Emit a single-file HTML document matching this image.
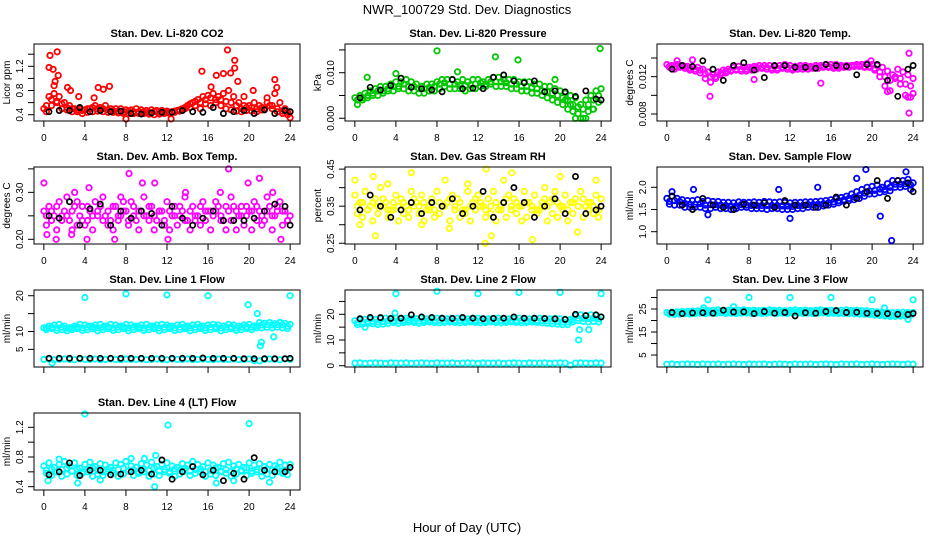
<!DOCTYPE html>
<html><head><meta charset="utf-8">
<style>
html,body{margin:0;padding:0;background:#fff;}
svg{display:block;font-family:"Liberation Sans",sans-serif;}
</style></head>
<body>
<svg id="chart" width="936" height="540" viewBox="0 0 936 540" xmlns="http://www.w3.org/2000/svg">
<rect x="0" y="0" width="936" height="540" fill="#fff"/>
<text x="467" y="14" font-size="13" text-anchor="middle">NWR_100729  Std. Dev. Diagnostics</text>
<text x="467" y="532" font-size="13" text-anchor="middle">Hour of Day (UTC)</text>
</svg>
<script>
const hoursA=[0,0.5,1,1.5,2,2.5,3,3.5,4,4.5,5,5.5,6,6.5,7,7.5,8,8.5,9,9.5,10,10.5,11,11.5,12,12.5,13,13.5,14,14.5,15,15.5,16,16.5,17,17.5,18,18.5,19,19.5,20,20.5,21,21.5,22,22.5,23,23.5,24];
const hoursB=[0.25,0.75,1.25,1.75,2.25,2.75,3.25,3.75,4.25,4.75,5.25,5.75,6.25,6.75,7.25,7.75,8.25,8.75,9.25,9.75,10.25,10.75,11.25,11.75,12.25,12.75,13.25,13.75,14.25,14.75,15.25,15.75,16.25,16.75,17.25,17.75,18.25,18.75,19.25,19.75,20.25,20.75,21.25,21.75,22.25,22.75,23.25,23.75];
const hoursK=[0.5,1.5,2.5,3.5,4.5,5.5,6.5,7.5,8.5,9.5,10.5,11.5,12.5,13.5,14.5,15.5,16.5,17.5,18.5,19.5,20.5,21.5,22.5,23.5,24];
const xTicks=[0,4,8,12,16,20,24];

// Panel 1 CO2
const co2A=[0.5,0.7,0.75,0.7,0.6,0.55,0.5,0.5,0.48,0.5,0.55,0.52,0.55,0.5,0.5,0.5,0.48,0.48,0.5,0.48,0.47,0.48,0.47,0.47,0.46,0.45,0.47,0.5,0.55,0.6,0.65,0.7,0.72,0.75,0.7,0.75,0.8,0.7,0.6,0.55,0.55,0.6,0.55,0.5,0.55,0.75,0.6,0.5,0.45];
const co2B=[0.45,0.55,0.6,0.5,0.48,0.45,0.45,0.42,0.44,0.45,0.46,0.45,0.44,0.44,0.43,0.42,0.42,0.42,0.42,0.42,0.41,0.4,0.41,0.42,0.42,0.44,0.46,0.5,0.52,0.55,0.5,0.58,0.55,0.6,0.55,0.5,0.48,0.46,0.45,0.47,0.46,0.45,0.48,0.6,0.5,0.45,0.42,0.4];
const co2M=[0.55,0.65,0.62,0.58,0.52,0.5,0.48,0.47,0.5,0.52,0.5,0.5,0.48,0.47,0.46,0.45,0.46,0.45,0.45,0.45,0.44,0.45,0.44,0.45,0.44,0.46,0.48,0.52,0.58,0.62,0.6,0.65,0.68,0.65,0.65,0.62,0.6,0.55,0.5,0.52,0.52,0.5,0.52,0.68,0.55,0.5,0.46,0.44];
const co2OutX=[0.6,1.3,0.5,0.9,1.4,1.1,2.3,2.6,3.4,5.3,5.8,6.4,15.4,16.8,17.5,17.9,18.6,18.6,18.9,18.2,20.4,22.5,22.7,8,12.4,24,1.0,4.9,16.3,19.5];
const co2OutY=[1.38,1.44,1.18,1.15,1.05,0.95,0.85,0.8,0.7,0.85,0.82,0.87,1.12,1.05,1.08,1.47,1.3,1.17,0.95,1.09,0.8,0.98,0.85,0.33,0.33,0.35,0.88,0.68,0.86,0.7];
const co2K=[0.45,0.47,0.47,0.52,0.45,0.47,0.45,0.46,0.42,0.41,0.43,0.44,0.44,0.47,0.45,0.44,0.52,0.42,0.45,0.47,0.42,0.48,0.42,0.47,0.45];

// Panel 2 Pressure
const presA=[0.0045,0.005,0.0055,0.006,0.0065,0.007,0.007,0.0075,0.008,0.008,0.0085,0.008,0.0075,0.007,0.0075,0.0075,0.008,0.0085,0.0085,0.0085,0.008,0.0085,0.008,0.0085,0.0085,0.008,0.0085,0.009,0.009,0.0085,0.0085,0.0085,0.008,0.008,0.008,0.0075,0.0075,0.007,0.007,0.0065,0.006,0.0055,0.005,0.0045,0.003,0.004,0.005,0.006,0.0065];
const presB=[0.003,0.004,0.0045,0.005,0.005,0.0055,0.006,0.006,0.0065,0.0065,0.006,0.006,0.0055,0.0055,0.006,0.006,0.0065,0.007,0.0065,0.0065,0.0065,0.006,0.0065,0.0065,0.007,0.007,0.0075,0.007,0.007,0.007,0.0065,0.0065,0.006,0.006,0.0055,0.0055,0.005,0.0045,0.004,0.0035,0.003,0.002,0.0015,0.001,0.0,0.0015,0.002,0.0035];
const presM=[0.004,0.0045,0.005,0.0055,0.006,0.006,0.0065,0.007,0.007,0.0075,0.007,0.007,0.0065,0.0065,0.0068,0.007,0.0075,0.0078,0.0075,0.0075,0.0072,0.0072,0.0073,0.0075,0.0078,0.0075,0.008,0.008,0.008,0.0078,0.0075,0.0075,0.007,0.007,0.0068,0.0065,0.006,0.0058,0.0055,0.005,0.0045,0.0038,0.003,0.0025,0.002,0.003,0.004,0.005];
const presOutX=[8,13.7,15.9,23.9,21.5,22,22.5,23.2,20.5,21,4,10,1.2,19.5];
const presOutY=[0.0148,0.0135,0.0128,0.0153,0,0,0,0.002,0.004,0.003,0.0098,0.0102,0.009,0.0085];
const presK=[0.0045,0.0068,0.0062,0.0072,0.0088,0.0068,0.0065,0.0062,0.0058,0.0085,0.0065,0.0066,0.0065,0.009,0.0095,0.0082,0.0078,0.0082,0.0058,0.006,0.0058,0.0048,0.006,0.0042,0.004];

// Panel 3 Li-820 Temp
const tempA=[0.0133,0.0132,0.0133,0.0132,0.0131,0.013,0.013,0.0128,0.0125,0.0122,0.0125,0.0127,0.0128,0.013,0.0131,0.013,0.013,0.0131,0.0132,0.0132,0.0132,0.0131,0.0132,0.0133,0.0132,0.0131,0.0132,0.0132,0.0131,0.0132,0.0132,0.0133,0.0133,0.0133,0.0132,0.0132,0.0132,0.0133,0.0133,0.0134,0.0133,0.0132,0.013,0.0126,0.0122,0.0128,0.0125,0.0122,0.0118];
const tempB=[0.013,0.0128,0.013,0.0129,0.0127,0.0126,0.0124,0.0118,0.0114,0.0118,0.0122,0.0124,0.0126,0.0127,0.0126,0.0126,0.0127,0.0128,0.0129,0.0128,0.0127,0.0127,0.0129,0.0128,0.0127,0.0128,0.0128,0.0128,0.0129,0.0129,0.013,0.013,0.0129,0.0129,0.013,0.013,0.0131,0.0131,0.013,0.013,0.0127,0.012,0.011,0.0105,0.0118,0.0112,0.01,0.0098];
const tempM=[0.0131,0.013,0.0131,0.0131,0.0129,0.0128,0.0127,0.0123,0.012,0.012,0.0124,0.0126,0.0127,0.0128,0.0128,0.0128,0.0129,0.013,0.013,0.013,0.0129,0.0129,0.013,0.013,0.0129,0.013,0.013,0.013,0.013,0.0131,0.0131,0.0131,0.0131,0.0131,0.0131,0.0131,0.0132,0.0132,0.0131,0.0131,0.0129,0.0125,0.012,0.0116,0.012,0.0118,0.0112,0.011];
const tempOutX=[2.5,4.2,8.5,15,21.5,23.6,23.6,24,23.5,1.0,19.9];
const tempOutY=[0.0138,0.0099,0.0117,0.0113,0.0104,0.0145,0.0081,0.0102,0.0098,0.0137,0.0137];
const tempK=[0.0128,0.0132,0.0131,0.0137,0.0128,0.0116,0.0132,0.0135,0.0127,0.0119,0.0132,0.0132,0.013,0.013,0.0129,0.0133,0.0132,0.0131,0.0122,0.0133,0.0133,0.0116,0.0099,0.0128,0.0132];

// Panel 4 Amb Box Temp
const ambA=[0.26,0.27,0.25,0.28,0.26,0.24,0.27,0.25,0.23,0.26,0.28,0.27,0.25,0.24,0.27,0.25,0.26,0.28,0.24,0.26,0.25,0.27,0.24,0.26,0.28,0.25,0.23,0.26,0.24,0.27,0.25,0.28,0.26,0.25,0.27,0.24,0.26,0.27,0.25,0.23,0.26,0.28,0.26,0.24,0.27,0.25,0.28,0.26,0.25];
const ambB=[0.23,0.24,0.22,0.25,0.29,0.22,0.23,0.27,0.24,0.22,0.25,0.29,0.23,0.22,0.24,0.28,0.23,0.25,0.22,0.29,0.24,0.22,0.26,0.23,0.22,0.27,0.25,0.29,0.22,0.24,0.23,0.26,0.22,0.28,0.24,0.22,0.29,0.22,0.25,0.27,0.22,0.24,0.23,0.29,0.22,0.26,0.23,0.24];
const ambM=[0.25,0.26,0.27,0.24,0.25,0.26,0.28,0.24,0.27,0.25,0.26,0.24,0.26,0.27,0.25,0.26,0.24,0.27,0.26,0.25,0.27,0.25,0.26,0.24,0.26,0.25,0.27,0.24,0.26,0.25,0.27,0.24,0.26,0.26,0.25,0.27,0.24,0.26,0.27,0.25,0.26,0.27,0.25,0.26,0.25,0.27,0.26,0.24];
const ambOutX=[0,8.3,18,10.8,4.4,1.2,4.2,6.9,12.1,23.1,19.9,21,0.3,2.7,9.6,3.0,7.5,13.8,17.2,22.3];
const ambOutY=[0.32,0.34,0.35,0.32,0.31,0.2,0.2,0.2,0.2,0.2,0.32,0.33,0.21,0.21,0.32,0.3,0.29,0.3,0.3,0.3];
const ambK=[0.25,0.245,0.28,0.23,0.265,0.275,0.23,0.26,0.245,0.26,0.255,0.23,0.27,0.245,0.23,0.245,0.26,0.24,0.24,0.24,0.245,0.26,0.275,0.27,0.23];

// Panel 5 Gas Stream RH
const rhA=[0.38,0.36,0.39,0.35,0.37,0.4,0.36,0.34,0.38,0.37,0.35,0.39,0.36,0.38,0.34,0.37,0.39,0.35,0.36,0.38,0.37,0.34,0.39,0.36,0.38,0.35,0.37,0.39,0.34,0.36,0.38,0.37,0.35,0.39,0.36,0.38,0.34,0.37,0.36,0.39,0.35,0.38,0.36,0.37,0.39,0.35,0.36,0.38,0.37];
const rhB=[0.33,0.32,0.34,0.31,0.33,0.35,0.32,0.34,0.31,0.33,0.32,0.35,0.33,0.31,0.34,0.32,0.33,0.35,0.31,0.34,0.32,0.33,0.31,0.34,0.35,0.32,0.33,0.31,0.34,0.32,0.35,0.33,0.31,0.32,0.34,0.33,0.35,0.31,0.33,0.32,0.34,0.31,0.33,0.35,0.32,0.34,0.33,0.32];
const rhM=[0.35,0.36,0.34,0.36,0.35,0.37,0.34,0.36,0.35,0.36,0.34,0.37,0.35,0.36,0.35,0.34,0.36,0.35,0.37,0.35,0.36,0.34,0.35,0.37,0.36,0.34,0.35,0.36,0.35,0.37,0.34,0.36,0.35,0.36,0.35,0.34,0.36,0.35,0.37,0.36,0.35,0.34,0.36,0.35,0.37,0.36,0.35,0.34];
const rhOutX=[0,1.8,5.5,12.8,15.3,20,23.5,2,12.7,17.3,13.3,9.2,21.7,0.5,6.5,3.2,8.8,11,14.5,18.5];
const rhOutY=[0.42,0.43,0.44,0.45,0.44,0.43,0.42,0.27,0.25,0.26,0.27,0.29,0.28,0.3,0.3,0.41,0.42,0.41,0.42,0.4];
const rhK=[0.34,0.38,0.35,0.32,0.34,0.36,0.33,0.36,0.35,0.37,0.33,0.35,0.39,0.32,0.36,0.4,0.36,0.32,0.35,0.37,0.33,0.43,0.33,0.34,0.35];

// Panel 6 Sample Flow
const sfA=[1.75,1.8,1.75,1.72,1.7,1.7,1.72,1.68,1.7,1.68,1.68,1.66,1.66,1.65,1.67,1.66,1.66,1.67,1.66,1.68,1.67,1.66,1.67,1.66,1.65,1.66,1.66,1.67,1.67,1.68,1.69,1.7,1.72,1.75,1.77,1.8,1.85,1.9,1.95,2,2.02,2.05,2,2.08,2.15,2.15,2.15,2.18,2.1];
const sfB=[1.62,1.6,1.6,1.55,1.55,1.55,1.55,1.52,1.52,1.55,1.52,1.52,1.5,1.52,1.55,1.55,1.52,1.52,1.52,1.5,1.52,1.52,1.5,1.5,1.5,1.52,1.52,1.55,1.55,1.55,1.58,1.6,1.62,1.65,1.68,1.7,1.72,1.75,1.8,1.85,1.85,1.88,1.9,1.92,2,2,2.02,1.95];
const sfM=[1.68,1.7,1.68,1.64,1.62,1.62,1.63,1.6,1.61,1.61,1.6,1.59,1.58,1.58,1.61,1.6,1.59,1.59,1.59,1.59,1.59,1.59,1.58,1.58,1.57,1.59,1.59,1.61,1.61,1.62,1.63,1.65,1.67,1.7,1.72,1.75,1.78,1.82,1.87,1.92,1.93,1.96,1.95,2,2.07,2.07,2.08,2.05];
const sfOutX=[19.4,23.3,18.5,12,20.8,21.9,14.7,2.6,10.9,4,0.5];
const sfOutY=[2.4,2.35,2.2,1.3,1.35,0.8,2.0,1.95,1.95,1.38,1.9];
const sfK=[1.8,1.6,1.5,1.75,1.6,1.55,1.5,1.62,1.6,1.65,1.55,1.7,1.6,1.6,1.55,1.6,1.78,1.6,1.75,1.9,2.15,1.75,2.15,2.1,1.9];

// Panel 7 Line 1 Flow
const l1A=[11,11.5,11.8,12,11.5,11,11.5,12,11.8,11.5,11.8,12,11.5,12,11.8,11.5,12,11.8,11.5,11.8,12,11.5,11.8,12,11.8,11.5,11.8,12,11.5,11.8,12,11.5,11.8,12,11.8,11.5,12,11.8,11.5,11.8,12,11.5,12.5,12.3,12.5,12.2,12.5,12.3,12];
const l1B=[10.5,10.8,10.3,10.5,10.2,10.5,10.8,10.3,10.5,10.8,10.2,10.5,10.8,10.3,10.5,10.8,10.2,10.5,10.8,10.3,10.5,10.8,10.2,10.5,10.8,10.3,10.5,10.8,10.2,10.5,10.8,10.3,10.5,10.8,10.2,10.5,10.8,10.3,10.5,10.8,10.5,11,11,11.2,11,11.2,11,10.8];
const l1M=[11,11.2,11,11.2,10.9,11,11.3,11,11.2,11.3,11,11.2,11.3,11,11.2,11.3,11,11.2,11.3,11,11.2,11.3,11,11.2,11.3,11,11.2,11.3,11,11.2,11.3,11,11.2,11.3,11,11.2,11.3,11,11.2,11.3,11.2,11.6,11.8,11.9,11.8,11.9,11.8,11.5];
const l1Low=[2.2,2.3,2.1,2.2,2.3,2.2,2.1,2.3,2.2,2.2,2.3,2.1,2.2,2.3,2.2,2.1,2.3,2.2,2.2,2.3,2.1,2.2,2.3,2.2,2.1,2.3,2.2,2.2,2.3,2.1,2.2,2.3,2.2,2.1,2.3,2.2,2.2,2.3,2.1,2.2,2.3,1.9,1.8,2.2,2.3,2.2,2.1,2.3,2.2];
const l1OutX=[4,8,12,16,19.9,20.8,21.2,21.1,22.4,24,0.8];
const l1OutY=[19.5,20.5,20.2,20,17.5,15,7,6,8.5,20,1.2];
const l1K=[2.5,2.5,2.5,2.5,2.5,2.5,2.5,2.5,2.5,2.5,2.5,2.5,2.5,2.5,2.5,2.6,2.5,2.5,2.5,2.4,2.4,2.4,2.4,2.4,2.5];

// Panel 8 Line 2 Flow
const l2A=[17.5,17.8,18,18.2,18,18.3,18.5,18.2,18.5,18.3,18.5,18.2,18.3,18.5,18.2,18.4,18.5,18.3,18.2,18.4,18.5,18.3,18.2,18.4,18.5,18.3,18.2,18.4,18.5,18.3,18.2,18.4,18.5,18.3,18.2,18.4,18.5,18.3,18.2,18.4,18.2,18,18,19.5,19.8,19.5,19.8,19.5,19];
const l2B=[16,16.2,16.5,16.3,16,16.2,16.5,16.8,16.5,16.8,17,16.8,16.5,16.8,17,16.8,16.7,16.8,17,16.8,16.7,16.8,17,16.8,16.7,16.8,17,16.8,16.7,16.8,17,16.8,16.7,16.8,17,16.8,16.7,16.5,16.3,16.2,16,16,17,17.5,17.2,17,17.2,17];
const l2M=[16.8,17,17.2,17.2,17,17.2,17.5,17.5,17.5,17.6,17.7,17.5,17.4,17.6,17.6,17.6,17.6,17.5,17.6,17.6,17.6,17.5,17.6,17.6,17.6,17.5,17.6,17.6,17.6,17.5,17.6,17.6,17.6,17.5,17.6,17.6,17.6,17.4,17.3,17.2,17,17,17.8,18.5,18.5,18.3,18.5,18.2];
const l2Low=[1,1.1,0.9,1,1.1,1,0.9,1.1,1,1,1.1,0.9,1,1.1,1,0.9,1.1,1,1,1.1,0.9,1,1.1,1,0.9,1.1,1,1,1.1,0.9,1,1.1,1,0.9,1.1,1,1,1.1,0.9,1,1.1,1,0.2,1,1.1,1,0.9,1.1,1];
const l2OutX=[4,8,12,16,20,24,21.8,21.9,22.8,1,3.9];
const l2OutY=[28,29,28,28.5,28.5,28,10,14,14,15,20.5];
const l2K=[18.3,18.8,18.7,18.4,18.5,19.8,19,18.8,18.5,18.4,18.8,18.5,18.3,18.4,18.5,19,18.5,18.5,18.4,18.2,18,20,19.5,19.8,19];

// Panel 9 Line 3 Flow
const l3A=[23.5,23.6,23.8,23.9,24,24.1,24.2,24.5,24.3,24.5,24.6,24.4,24.5,24.3,24.5,24.6,24.4,24.5,24.3,24.5,24.6,24.4,24.5,24.3,24.5,24.6,24.4,24.5,24.3,24.5,24.6,24.4,24.5,24.3,24.5,24.6,24.4,24.5,24.3,24.2,24,23.8,23.6,23.5,23.4,23.5,23.6,23.5,23.5];
const l3B=[22.8,22.6,22.8,23,22.8,23,23.2,23,23.2,23.1,23.3,23.1,23.2,23,23.2,23.3,23.1,23.2,23,23.2,23.3,23.1,23.2,23,23.2,23.3,23.1,23.2,23,23.2,23.3,23.1,23.2,23,23.1,23,22.9,22.8,22.7,22.6,22.3,22.2,22,21.8,21.8,21.9,22,22.4];
const l3M=[23.2,23.1,23.3,23.5,23.4,23.6,23.7,23.8,23.8,23.8,24,23.8,23.9,23.7,23.9,24,23.8,23.9,23.7,23.9,24,23.8,23.9,23.7,23.9,24,23.8,23.9,23.7,23.9,24,23.8,23.9,23.7,23.8,23.8,23.7,23.7,23.5,23.4,23.2,23,22.8,22.6,22.6,22.7,22.8,23];
const l3Low=[1,1.1,0.9,1,1.1,1,0.9,1.1,1,1,1.1,0.9,1,1.1,1,0.9,1.1,1,1,1.1,0.9,1,1.1,1,0.9,1.1,1,1,1.1,0.9,1,1.1,1,0.9,1.1,1,1,1.1,0.9,1,1.1,1,0.9,1,1.1,1,0.9,1.1,1];
const l3OutX=[4,8,12,16,20,24,3.6,6.5,21.2,23.5];
const l3OutY=[29,30,30,30,29,29,25.5,26,25.5,20.5];
const l3K=[23.5,23,23.3,23.4,23.2,24.5,23.7,23.8,23,23.9,23.2,23.5,22,23.4,23.2,23.9,24.3,23.5,23.6,23.2,23.1,23,22.7,22.6,23.1];

// Panel 10 Line 4 (LT) Flow
const l4A=[0.68,0.72,0.66,0.7,0.74,0.68,0.72,0.65,0.7,0.73,0.67,0.71,0.69,0.66,0.72,0.7,0.74,0.68,0.66,0.71,0.69,0.73,0.67,0.7,0.72,0.68,0.66,0.71,0.69,0.74,0.7,0.67,0.72,0.69,0.66,0.71,0.73,0.68,0.7,0.66,0.72,0.69,0.71,0.67,0.7,0.68,0.73,0.69,0.7];
const l4B=[0.58,0.55,0.6,0.54,0.57,0.61,0.55,0.58,0.6,0.54,0.57,0.55,0.6,0.58,0.54,0.57,0.61,0.55,0.58,0.6,0.54,0.57,0.55,0.6,0.58,0.54,0.57,0.61,0.55,0.58,0.6,0.54,0.57,0.55,0.6,0.58,0.54,0.57,0.61,0.55,0.58,0.6,0.54,0.57,0.55,0.6,0.58,0.56];
const l4M=[0.62,0.64,0.6,0.63,0.65,0.61,0.64,0.6,0.63,0.65,0.62,0.6,0.64,0.62,0.63,0.65,0.61,0.63,0.6,0.64,0.62,0.65,0.61,0.63,0.6,0.64,0.62,0.65,0.61,0.63,0.64,0.6,0.62,0.65,0.61,0.63,0.6,0.64,0.62,0.65,0.61,0.63,0.6,0.64,0.62,0.65,0.61,0.63];
const l4OutX=[4,12.1,20,10.9,10.8,3.3,16.8,0.4,8.5,1.5,9.8,22,5.5,18.5];
const l4OutY=[1.38,1.23,1.25,0.82,0.4,0.45,0.45,0.48,0.78,0.77,0.78,0.46,0.49,0.48];
const l4K=[0.56,0.6,0.72,0.55,0.62,0.62,0.56,0.57,0.6,0.62,0.57,0.76,0.5,0.6,0.67,0.56,0.62,0.48,0.58,0.5,0.79,0.62,0.6,0.6,0.66];

const NS='http://www.w3.org/2000/svg';
const svg=document.getElementById('chart');
const BW=266, BH=77;
const colLeft=[34,345,657];
const rowTop=[44,167,290,413];

function mk(tag,attrs,parent){const e=document.createElementNS(NS,tag);for(const k in attrs)e.setAttribute(k,attrs[k]);(parent||svg).appendChild(e);return e;}

const panels=[
 {key:'co2',title:'Stan. Dev. Li-820 CO2',ylab:'Licor ppm',c:0,r:0,ymin:0.296,ymax:1.569,ticks:[0.4,0.6,0.8,1.0,1.2,1.4],labels:[0.4,0.8,1.2],dec:1,color:'#ff0000',
  series:[[hoursA,co2A],[hoursB,co2B],[hoursB,co2M],[co2OutX,co2OutY]],k:co2K},
 {key:'pressure',title:'Stan. Dev. Li-820 Pressure',ylab:'kPa',c:1,r:0,ymin:-0.0006,ymax:0.0163,ticks:[0,0.005,0.01,0.015],labels:[0,0.01],dec:3,color:'#00c800',
  series:[[hoursA,presA],[hoursB,presB],[hoursB,presM],[presOutX,presOutY]],k:presK},
 {key:'li820-temp',title:'Stan. Dev. Li-820 Temp.',ylab:'degrees C',c:2,r:0,ymin:0.00725,ymax:0.0155,ticks:[0.008,0.01,0.012,0.014],labels:[0.008,0.012],dec:3,color:'#ff00ff',
  series:[[hoursA,tempA],[hoursB,tempB],[hoursB,tempM],[tempOutX,tempOutY]],k:tempK},
 {key:'amb-box-temp',title:'Stan. Dev. Amb. Box Temp.',ylab:'degrees C',c:0,r:1,ymin:0.19,ymax:0.354,ticks:[0.2,0.25,0.3,0.35],labels:[0.2,0.3],dec:2,color:'#ff00ff',
  series:[[hoursA,ambA],[hoursB,ambB],[hoursB,ambM],[ambOutX,ambOutY]],k:ambK},
 {key:'gas-stream-rh',title:'Stan. Dev. Gas Stream RH',ylab:'percent',c:1,r:1,ymin:0.248,ymax:0.4557,ticks:[0.25,0.3,0.35,0.4,0.45],labels:[0.25,0.35,0.45],dec:2,color:'#ffff00',
  series:[[hoursA,rhA],[hoursB,rhB],[hoursB,rhM],[rhOutX,rhOutY]],k:rhK},
 {key:'sample-flow',title:'Stan. Dev. Sample Flow',ylab:'ml/min',c:2,r:1,ymin:0.723,ymax:2.457,ticks:[1.0,1.5,2.0],labels:[1.0,1.5,2.0],dec:1,color:'#0000ff',
  series:[[hoursA,sfA],[hoursB,sfB],[hoursB,sfM],[sfOutX,sfOutY]],k:sfK},
 {key:'line1-flow',title:'Stan. Dev. Line 1 Flow',ylab:'ml/min',c:0,r:2,ymin:0.07,ymax:21.6,ticks:[5,10,15,20],labels:[5,10,20],dec:0,color:'#00ffff',
  series:[[hoursA,l1A],[hoursB,l1B],[hoursB,l1M],[hoursA,l1Low],[l1OutX,l1OutY]],k:l1K},
 {key:'line2-flow',title:'Stan. Dev. Line 2 Flow',ylab:'ml/min',c:1,r:2,ymin:-0.5,ymax:29.45,ticks:[0,5,10,15,20,25],labels:[0,10,20],dec:0,color:'#00ffff',
  series:[[hoursA,l2A],[hoursB,l2B],[hoursB,l2M],[hoursA,l2Low],[l2OutX,l2OutY]],k:l2K},
 {key:'line3-flow',title:'Stan. Dev. Line 3 Flow',ylab:'ml/min',c:2,r:2,ymin:-0.2,ymax:33.26,ticks:[5,10,15,20,25,30],labels:[5,15,25],dec:0,color:'#00ffff',
  series:[[hoursA,l3A],[hoursB,l3B],[hoursB,l3M],[hoursA,l3Low],[l3OutX,l3OutY]],k:l3K},
 {key:'line4-flow',title:'Stan. Dev. Line 4 (LT) Flow',ylab:'ml/min',c:0,r:3,ymin:0.355,ymax:1.393,ticks:[0.4,0.6,0.8,1.0,1.2],labels:[0.4,0.8,1.2],dec:1,color:'#00ffff',
  series:[[hoursA,l4A],[hoursB,l4B],[hoursB,l4M],[l4OutX,l4OutY]],k:l4K}
];

panels.forEach(p=>{
  const L=colLeft[p.c], T=rowTop[p.r];
  const xs=v=>L+(v+0.96)/25.92*BW;
  const ys=v=>T+BH-(v-p.ymin)/(p.ymax-p.ymin)*BH;
  const g=mk('g',{});
  
  
  const t=mk('text',{x:L+BW/2,y:T-7,'font-size':11,'font-weight':'bold','text-anchor':'middle'},g);
  t.textContent=p.title;
  
  
  const pg=mk('g',{fill:'none','stroke-width':1.8},g);
  
  
  p.series.forEach(s=>{
    const n=Math.min(s[0].length,s[1].length);
    for(let i=0;i<n;i++){
      const c=mk('circle',{cx:xs(s[0][i]).toFixed(1),cy:ys(s[1][i]).toFixed(1),r:2.7,stroke:p.color},pg);
      
      
    }
  });
  const kg=mk('g',{fill:'none','stroke-width':1.7},g);
  
  
  for(let i=0;i<Math.min(hoursK.length,p.k.length);i++){
    const c=mk('circle',{cx:xs(hoursK[i]).toFixed(1),cy:ys(p.k[i]).toFixed(1),r:2.6,stroke:'#000'},kg);
    
    
  }
  const b=mk('rect',{x:L,y:T,width:BW,height:BH,fill:'none',stroke:'#000','stroke-width':1},g);
  
  
  const xa=mk('g',{stroke:'#000','stroke-width':1},g);
  
  
  mk('line',{x1:xs(xTicks[0]),x2:xs(xTicks[xTicks.length-1]),y1:T+BH,y2:T+BH},xa);
  xTicks.forEach(v=>{
    mk('line',{x1:xs(v),x2:xs(v),y1:T+BH,y2:T+BH+6},xa);
  });
  if(p.r!==2){
    xTicks.forEach(v=>{
      const tl=mk('text',{x:xs(v),y:T+BH+20,'font-size':10,'text-anchor':'middle',stroke:'none'},g);
      tl.textContent=v;
      
      
    });
  }
  const ya=mk('g',{stroke:'#000','stroke-width':1},g);
  
  
  mk('line',{x1:L,x2:L,y1:ys(p.ticks[0]),y2:ys(p.ticks[p.ticks.length-1])},ya);
  p.ticks.forEach(v=>mk('line',{x1:L-6,x2:L,y1:ys(v),y2:ys(v)},ya));
  p.labels.forEach(v=>{
    const yy=ys(v), xx=L-11;
    const tl=mk('text',{x:xx,y:yy,'font-size':10,'text-anchor':'middle',transform:`rotate(-90 ${xx} ${yy})`},g);
    tl.textContent=v.toFixed(p.dec);
    
    
  });
  const yl=mk('text',{x:L-24,y:T+BH/2,'font-size':10,'text-anchor':'middle',transform:`rotate(-90 ${L-24} ${T+BH/2})`},g);
  yl.textContent=p.ylab;
  
  
});
</script>
</body></html>
